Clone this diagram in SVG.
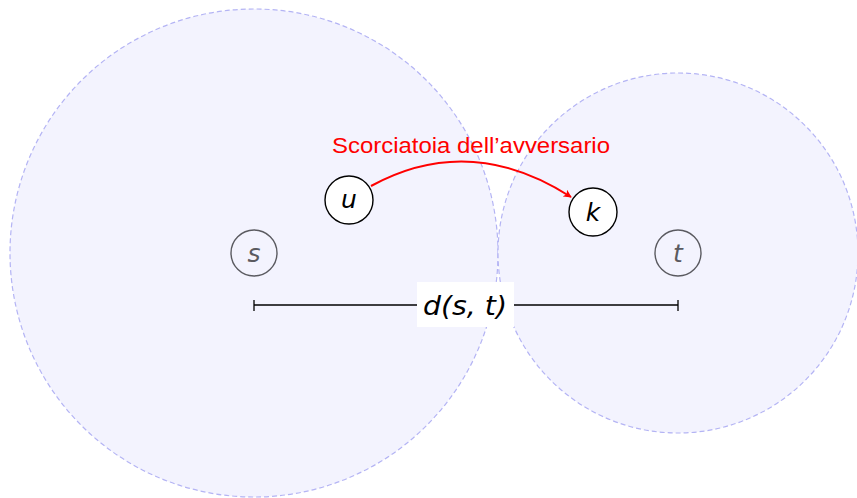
<svg xmlns="http://www.w3.org/2000/svg" width="857" height="498" viewBox="0 0 857 498">
<style>
.ball{fill:#f3f3fe;stroke:#b4b4f4;stroke-width:1.2;stroke-dasharray:5 3}
.node{fill:#ffffff;stroke:#000;stroke-width:1.4}
.gnode{fill:none;stroke:#5a5a60;stroke-width:1.4}
.lbl{font-family:"DejaVu Sans","Liberation Sans",sans-serif;font-style:italic;font-size:25px;text-anchor:middle}
</style>
<defs>
<marker id="ah" viewBox="0 0 10 10" refX="9" refY="5" markerWidth="8" markerHeight="8" orient="auto" markerUnits="userSpaceOnUse">
<path d="M0,0 L10,5 L0,10 L2.5,5 z" fill="#ff0000"/>
</marker>
</defs>
<g id="ball-s"><circle class="ball" cx="254" cy="253" r="244"/></g>
<g id="ball-t"><circle class="ball" cx="678" cy="253" r="180"/></g>
<g id="connectors">
<path d="M371,186 Q470,132 571,197" fill="none" stroke="#ff0000" stroke-width="2" marker-end="url(#ah)"/>
<text x="471" y="153" font-family="'Liberation Sans',Arial,sans-serif" font-size="22" fill="#ff0000" text-anchor="middle" textLength="278" lengthAdjust="spacingAndGlyphs">Scorciatoia dell’avversario</text>
</g>
<g id="measure">
<line x1="254" y1="305" x2="678" y2="305" stroke="#000" stroke-width="1.3"/>
<line x1="254" y1="300" x2="254" y2="311" stroke="#000" stroke-width="1.3"/>
<line x1="678" y1="300" x2="678" y2="311" stroke="#000" stroke-width="1.3"/>
<rect x="417" y="282" width="97" height="45" fill="#ffffff"/>
<text x="465" y="315" font-family="'DejaVu Sans','Liberation Sans',sans-serif" font-style="italic" font-size="27" text-anchor="middle" textLength="84" lengthAdjust="spacingAndGlyphs">d(s, t)</text>
</g>
<g id="s"><circle class="gnode" cx="254" cy="253" r="23"/><text class="lbl" x="254" y="262" fill="#5a5a60">s</text></g>
<g id="t"><circle class="gnode" cx="678" cy="253" r="23"/><text class="lbl" x="678" y="262" fill="#5a5a60">t</text></g>
<g id="u"><circle class="node" cx="349" cy="200" r="24"/><text class="lbl" x="349" y="208">u</text></g>
<g id="k"><circle class="node" cx="593" cy="212" r="24"/><text class="lbl" x="593" y="221">k</text></g>
</svg>
